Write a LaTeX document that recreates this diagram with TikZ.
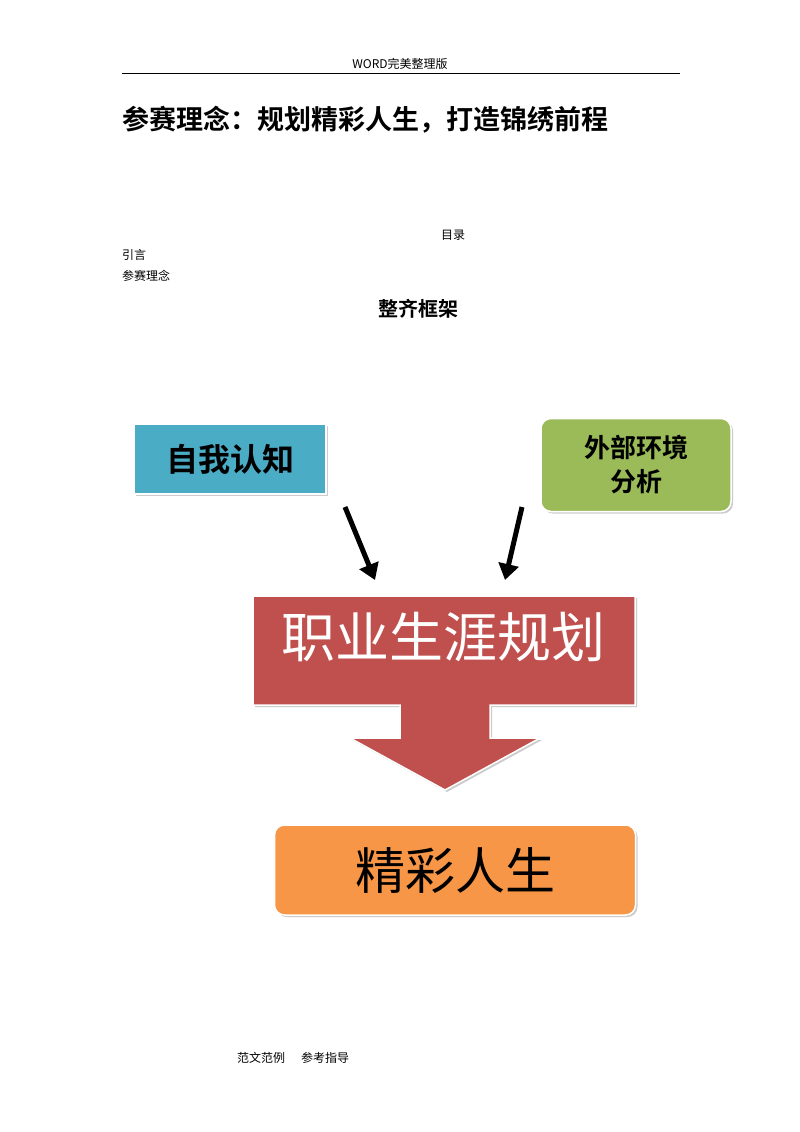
\documentclass[tikz,border=0pt]{standalone}
\usepackage{fontspec}
\newfontfamily\cjk{Noto Sans CJK SC}
\newfontfamily\cjkb{Noto Sans CJK SC Bold}
\usetikzlibrary{shadows}
\definecolor{bluebox}{HTML}{4BACC6}
\definecolor{greenbox}{HTML}{9BBB59}
\definecolor{redbox}{HTML}{C0504D}
\definecolor{orangebox}{HTML}{F79646}
\begin{document}
\begin{tikzpicture}[x=1pt,y=-1pt,
  txt/.style={font=\cjk\fontsize{12}{14}\selectfont,inner sep=0pt},
  box/.style={draw=white,line width=1.5pt,drop shadow={shadow xshift=2pt,shadow yshift=-2pt,opacity=0.4}},
  blk/.style={line width=5pt,-{Triangle[length=16pt,width=20pt]}}]
\useasboundingbox[fill=white] (0,0) rectangle (800,1132);
\node[txt] (hdr) at (400,64) {WORD完美整理版};
\draw[line width=0.8pt] (122,73) coordinate (l1) -- (680,73) coordinate (l2);
\node[anchor=west,inner sep=0pt,font=\cjkb\fontsize{27}{30}\selectfont] (title) at (122,120) {参赛理念：规划精彩人生，打造锦绣前程};
\node[txt] (toc) at (453,235) {目录};
\node[txt,anchor=west] (yy) at (122,255) {引言};
\node[txt,anchor=west] (cs) at (122,276) {参赛理念};
\node[inner sep=0pt,font=\cjkb\fontsize{20}{22}\selectfont] (zq) at (418,309) {整齐框架};
\node[box,fill=bluebox,minimum width=192pt,minimum height=70pt,font=\cjkb\fontsize{32}{36}\selectfont] (self) at (230,459) {自我认知};
\node[box,fill=greenbox,rounded corners=10pt,minimum width=190pt,minimum height=93pt,align=center,font=\cjkb\fontsize{26}{34}\selectfont] (env) at (636,465) {外部环境\\分析};
\draw[box,fill=redbox] (253,596) -- (635,596) -- (635,705) -- (490,705) -- (490,738) -- (540,738) -- (445,790) -- (350,738) -- (400,738) -- (400,705) -- (253,705) -- cycle;
\node[text=white,inner sep=0pt,font=\cjk\fontsize{54}{58}\selectfont] (job) at (443,637) {职业生涯规划};
\coordinate (a1s) at (345,507); \coordinate (a1e) at (375,580);
\coordinate (a2s) at (522,507); \coordinate (a2e) at (505,580);
\usetikzlibrary{arrows.meta}
\draw[blk] (a1s) -- (a1e);
\draw[blk] (a2s) -- (a2e);
\node[box,fill=orangebox,rounded corners=10pt,minimum width=361pt,minimum height=90pt,font=\cjk\fontsize{50}{54}\selectfont] (life) at (455,870) {精彩人生};
\node[txt,anchor=west] (ft) at (237,1058) {范文范例\hspace{16pt}参考指导};
\end{tikzpicture}
\end{document}
